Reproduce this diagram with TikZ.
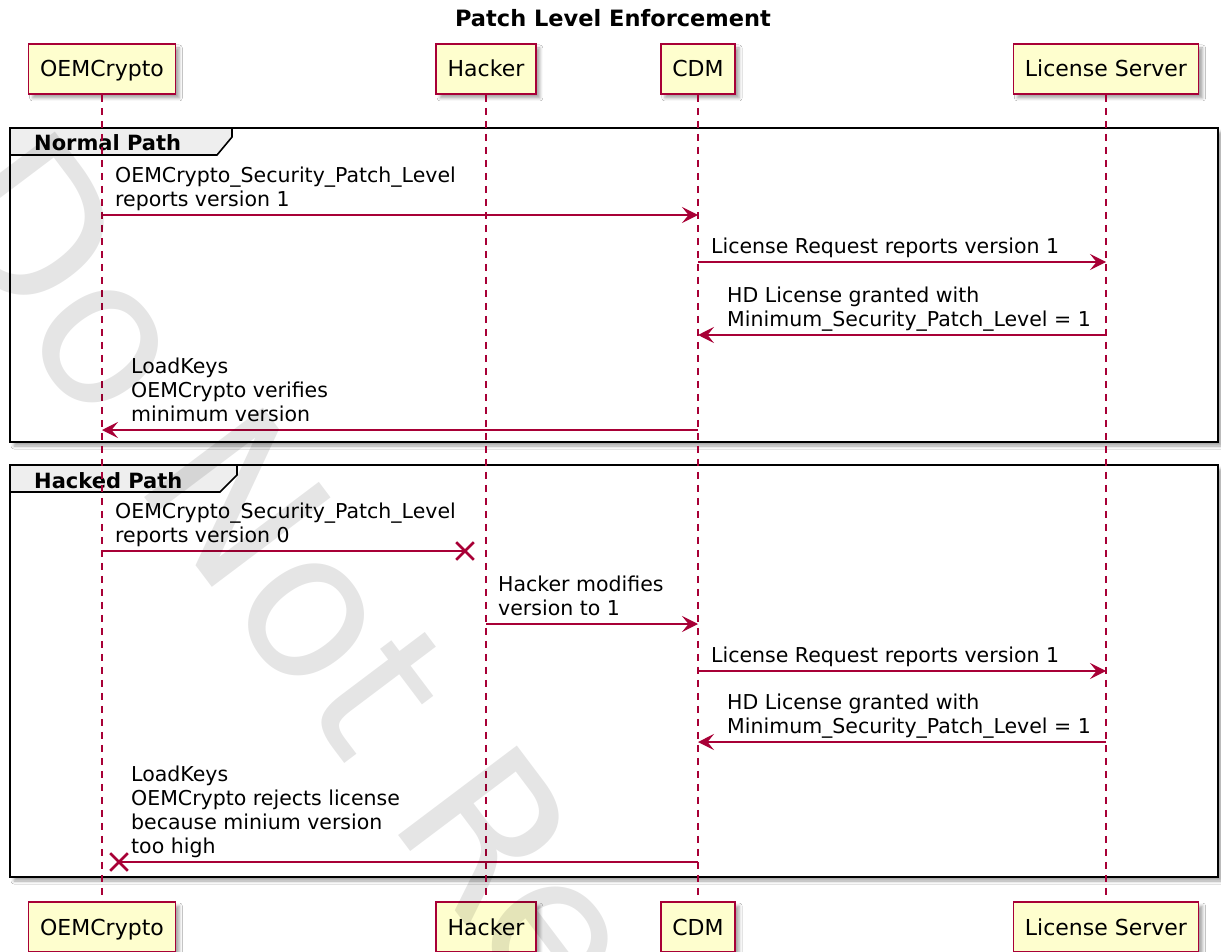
\documentclass[tikz,border=0pt]{standalone}
\usepackage{fontspec}
\setmainfont{DejaVu Sans}
\usetikzlibrary{arrows.meta,shadows.blur,shapes.misc,calc}

\definecolor{umlred}{HTML}{A80036}
\definecolor{umlyellow}{HTML}{FEFECE}
\definecolor{umlgray}{HTML}{EEEEEE}

\newcommand{\msgfont}{\fontsize{20.5}{24}\selectfont}
\newcommand{\partyfont}{\fontsize{22}{26}\selectfont}
\newcommand{\titlefont}{\fontsize{22.5}{27}\selectfont\bfseries}
\newcommand{\tabfont}{\fontsize{21}{25}\selectfont\bfseries}
\newcommand{\wmfont}{\fontsize{204}{240}\selectfont}

\tikzset{
  umlshadow/.style={blur shadow={shadow xshift=4pt, shadow yshift=-4pt, shadow blur radius=3pt, shadow opacity=35}},
  party/.style={draw=umlred, line width=1.6pt, fill=umlyellow, font=\partyfont, inner xsep=11.5pt, inner ysep=0pt, minimum height=50pt, text height=16pt, text depth=0pt, umlshadow},
  life/.style={umlred, line width=1.3pt, dash pattern=on 7pt off 6pt},
  msg/.style={umlred, line width=1.5pt, -{Stealth[length=16pt, width=16pt, inset=6.5pt]}},
  lost/.style={umlred, line width=1.5pt},
  cross/.style={cross out, draw=umlred, line width=2.6pt, minimum size=15pt, inner sep=0pt},
  lbl/.style={font=\msgfont, align=left, inner sep=0pt, anchor=south west},
  frm/.style={draw=black, line width=2.6pt},
  tabbox/.style={draw=black, line width=1.6pt, fill=umlgray},
  tablbl/.style={font=\tabfont, anchor=base west, inner sep=0pt},
  wmark/.style={font=\wmfont, text=black, text opacity=0.10, inner sep=0pt, anchor=base west, rotate=-53},
}

\begin{document}
\begin{tikzpicture}[x=1pt,y=-1pt]

\useasboundingbox (0,0) rectangle (1221,952);
\fill[white] (0,0) rectangle (1221,952);

\node[font=\titlefont, anchor=base] (title) at (613,27) {Patch Level Enforcement};

\coordinate (oem) at (102,0);
\coordinate (hck) at (486,0);
\coordinate (cdm) at (698,0);
\coordinate (srv) at (1106,0);

\foreach \i/\y in {1/215,2/262,3/335,4/430,5/551,6/624,7/671,8/742,9/862}
    \coordinate (r\i) at (0,\y);

% groups
\fill[white, umlshadow] (10,128) rectangle (1218,442);
\fill[white, umlshadow] (10,465) rectangle (1218,877);
\draw[frm] (10,128) rectangle (1218,442);
\draw[frm] (10,465) rectangle (1218,877);

\draw[tabbox] (10,128) -- (232,128) -- (232,137) -- (217,155) -- (10,155) -- cycle;
\node[tablbl] (normal) at (34,151) {Normal Path};
\draw[tabbox] (10,465) -- (237,465) -- (237,475) -- (220,492) -- (10,492) -- cycle;
\node[tablbl] (hacked) at (34,488) {Hacked Path};

% participants and lifelines
\foreach \p/\t in {oem/OEMCrypto, hck/Hacker, cdm/CDM, srv/License Server} {
    \node[party] (top\p) at ($(\p)+(0,69)$) {\t};
    \node[party] (bot\p) at ($(\p)+(0,927)$) {\t};
    \draw[life] (top\p) -- (bot\p);
}

% normal path
\draw[msg] (oem |- r1) -- (cdm |- r1);
\node[lbl] (t1) at ($(oem |- r1)+(13,-1)$) {OEMCrypto\_Security\_Patch\_Level\\reports version 1\strut};

\draw[msg] (cdm |- r2) -- (srv |- r2);
\node[lbl] (t2) at ($(cdm |- r2)+(13,-1)$) {License Request reports version 1\strut};

\draw[msg] (srv |- r3) -- (cdm |- r3);
\node[lbl] (t3) at ($(cdm |- r3)+(29,-1)$) {HD License granted with\\Minimum\_Security\_Patch\_Level = 1\strut};

\draw[msg] (cdm |- r4) -- (oem |- r4);
\node[lbl] (t4) at ($(oem |- r4)+(29,-1)$) {LoadKeys\\OEMCrypto verifies\\minimum version\strut};

% hacked path
\node[cross] (lost5) at ($(hck |- r5)+(-21,0)$) {};
\draw[lost] (oem |- r5) -- (lost5.center);
\node[lbl] (t5) at ($(oem |- r5)+(13,-1)$) {OEMCrypto\_Security\_Patch\_Level\\reports version 0\strut};

\draw[msg] (hck |- r6) -- (cdm |- r6);
\node[lbl] (t6) at ($(hck |- r6)+(12,-1)$) {Hacker modifies\\version to 1\strut};

\draw[msg] (cdm |- r7) -- (srv |- r7);
\node[lbl] (t7) at ($(cdm |- r7)+(13,-1)$) {License Request reports version 1\strut};

\draw[msg] (srv |- r8) -- (cdm |- r8);
\node[lbl] (t8) at ($(cdm |- r8)+(29,-1)$) {HD License granted with\\Minimum\_Security\_Patch\_Level = 1\strut};

\node[cross] (lost9) at ($(oem |- r9)+(17,0)$) {};
\draw[lost] (cdm |- r9) -- (lost9.center);
\node[lbl] (t9) at ($(oem |- r9)+(29,-1)$) {LoadKeys\\OEMCrypto rejects license\\because minium version\\too high\strut};

% watermark
\node[wmark] (wm) at (-76,205) {Do Not Re};

\end{tikzpicture}
\end{document}
